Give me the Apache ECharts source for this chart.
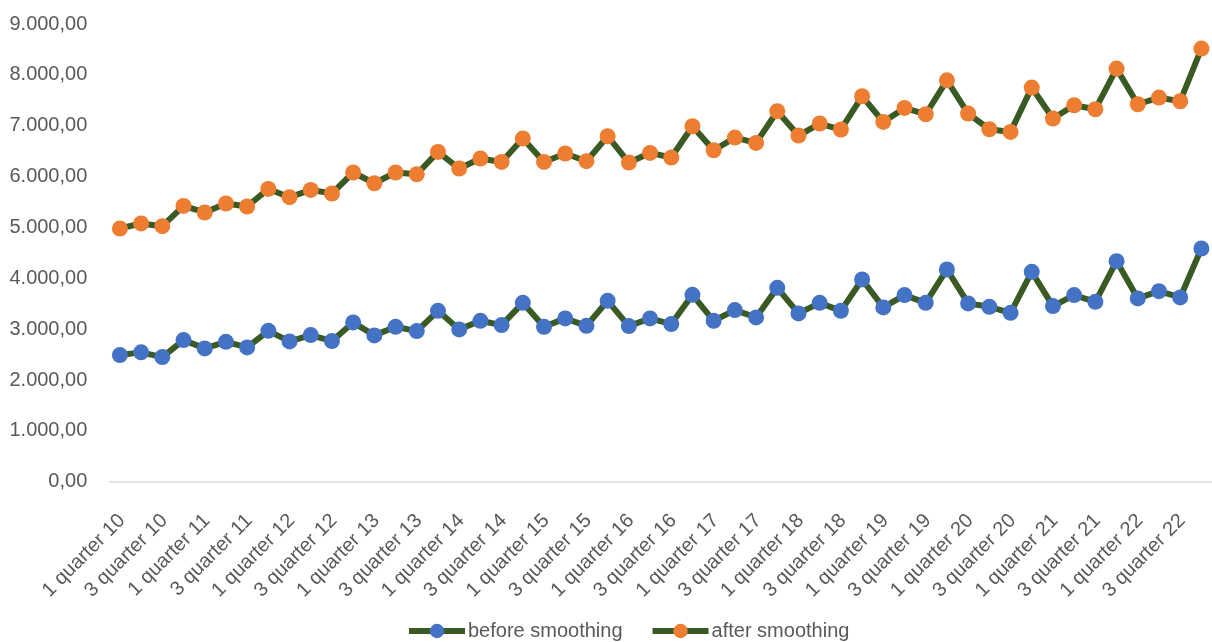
<!DOCTYPE html>
<html>
<head>
<meta charset="utf-8">
<script src="https://cdn.jsdelivr.net/npm/echarts@6/dist/echarts.min.js"></script>
<style>
html,body{margin:0;padding:0;background:#fff;}
#chart{width:1212px;height:642px;}
</style>
</head>
<body>
<div id="chart"></div>
<script>
var years = [10,11,12,13,14,15,16,17,18,19,20,21,22];
var quarters = [1,2,3,4];
var categories = [];
years.forEach(function(y){ quarters.forEach(function(q){ categories.push(q + ' quarter ' + y); }); });

var beforeSmoothing = [
  2490,2543,2450,2784,2621,2751,2641,2967,2759,2883,2765,3132,2877,3046,
  2961,3360,2995,3164,3079,3517,3046,3211,3065,3557,3060,3211,3099,3675,
  3164,3374,3230,3812,3309,3517,3360,3977,3427,3669,3517,4174,3506,
  3439,3321,4127,3453,3669,3537,4337,3604,3747,3623,4586
];
var afterSmoothing = [
  4979,5078,5024,5423,5294,5470,5412,5757,5594,5738,5667,6080,5869,6080,
  6046,6485,6158,6355,6288,6748,6288,6453,6302,6793,6276,6465,6374,6990,
  6518,6767,6661,7284,6807,7043,6925,7579,7074,7349,7225,7893,7239,
  6931,6878,7750,7141,7402,7324,8123,7422,7553,7481,8516
];
var seriesNames = ['before smoothing','after smoothing'];

var FONT = '"Liberation Sans", Arial, sans-serif';
var TXT = '#595959';
var LINE = '#3A5A24';

function fmt(v){
  var s = Math.round(v).toString().replace(/\B(?=(\d{3})+(?!\d))/g, '.');
  return s + ',00';
}

var chart = echarts.init(document.getElementById('chart'), null, {renderer:'canvas'});
chart.setOption({
  animation:false,
  backgroundColor:'#ffffff',
  grid:{left:109.3, right:-6.7, top:24, bottom:160.3, containLabel:false},
  legend:{
    left:401, top:616,
    itemWidth:56, itemHeight:18, itemGap:27,
    lineStyle:{width:6},
    textStyle:{fontFamily:FONT, fontSize:20, color:TXT, padding:[0,0,0,-2]},
    data:seriesNames
  },
  xAxis:{
    type:'category',
    data:categories,
    boundaryGap:true,
    axisLine:{show:true, lineStyle:{color:'#D9D9D9', width:1.5}},
    axisTick:{show:false},
    axisLabel:{interval:1, rotate:45, margin:38, fontFamily:FONT, fontSize:20, color:TXT,
               padding:[0,-3,0,0]}
  },
  yAxis:{
    type:'value', min:0, max:9000, interval:1000,
    axisLine:{show:false}, axisTick:{show:false},
    splitLine:{show:false},
    axisLabel:{margin:22, fontFamily:FONT, fontSize:20, color:TXT, formatter:fmt}
  },
  series:[
    {name:seriesNames[0], type:'line', data:beforeSmoothing, symbol:'circle', symbolSize:16,
     showAllSymbol:true,
     itemStyle:{color:'#4472C4'}, lineStyle:{color:LINE, width:6}},
    {name:seriesNames[1], type:'line', data:afterSmoothing, symbol:'circle', symbolSize:16,
     showAllSymbol:true,
     itemStyle:{color:'#ED7D31'}, lineStyle:{color:LINE, width:6}}
  ]
});
</script>
</body>
</html>
